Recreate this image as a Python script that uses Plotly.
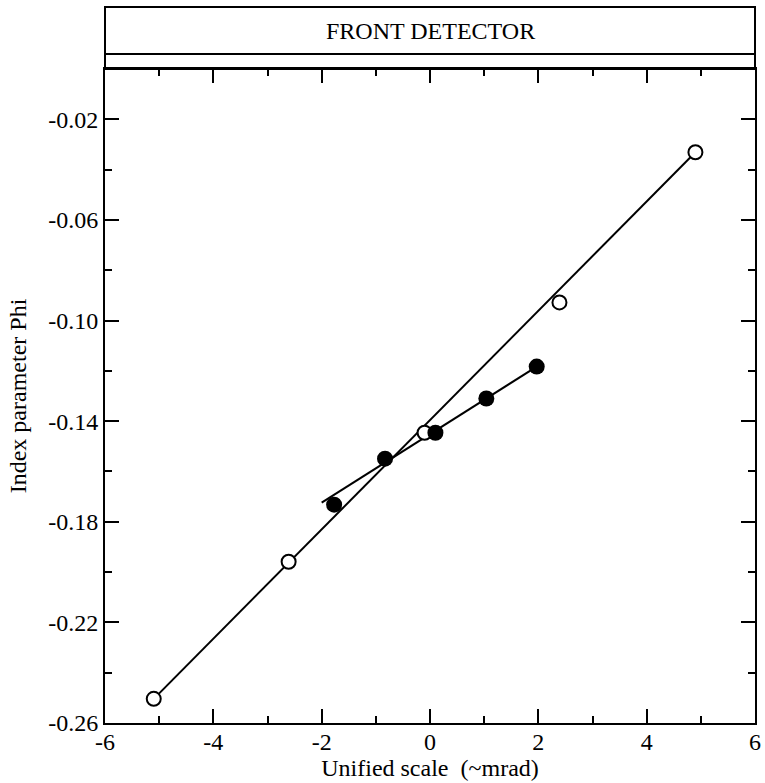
import plotly.graph_objects as go

# Measured points
open_x = [-5.10, -2.61, -0.10, 2.39, 4.90]
open_y = [-0.2504, -0.1959, -0.1446, -0.0928, -0.0331]
filled_x = [-1.77, -0.83, 0.10, 1.04, 1.97]
filled_y = [-0.1732, -0.1549, -0.1446, -0.1310, -0.1183]

# Fitted straight lines (end points)
open_fit_x = [-5.10, 4.90]
open_fit_y = [-0.2504, -0.0331]
filled_fit_x = [-2.00, 1.97]
filled_fit_y = [-0.1724, -0.1183]

x_ticks = [-6, -4, -2, 0, 2, 4, 6]
x_labels = ["-6", "-4", "-2", "0", "2", "4", "6"]
y_ticks = [-0.26, -0.22, -0.18, -0.14, -0.10, -0.06, -0.02]
y_labels = ["-0.26", "-0.22", "-0.18", "-0.14", "-0.10", "-0.06", "-0.02"]

FONT = "Liberation Serif, Times New Roman, serif"

fig = go.Figure()

fig.add_trace(go.Scatter(x=open_fit_x, y=open_fit_y, mode="lines",
                         line=dict(color="black", width=2), hoverinfo="skip"))
fig.add_trace(go.Scatter(x=filled_fit_x, y=filled_fit_y, mode="lines",
                         line=dict(color="black", width=2), hoverinfo="skip"))
fig.add_trace(go.Scatter(x=open_x, y=open_y, mode="markers",
                         marker=dict(symbol="circle", size=14, color="white",
                                     line=dict(color="black", width=2))))
fig.add_trace(go.Scatter(x=filled_x, y=filled_y, mode="markers",
                         marker=dict(symbol="circle", size=16, color="black",
                                     line=dict(color="black", width=0))))

axis_common = dict(
    showline=True, linewidth=2, linecolor="black", mirror="allticks",
    ticks="inside", ticklen=14, tickwidth=2, tickcolor="black",
    showgrid=False, zeroline=False,
    tickfont=dict(family=FONT, size=24, color="black"),
)

fig.update_xaxes(
    range=[-6, 6], tickmode="array", tickvals=x_ticks, ticktext=x_labels,
    minor=dict(dtick=1, tick0=0, ticks="inside", ticklen=7, tickwidth=2,
               tickcolor="black", showgrid=False),
    ticklabelstandoff=-4,
    title=dict(text="Unified scale\u00a0 (~mrad)",
               font=dict(family=FONT, size=24, color="black"), standoff=4),
    **axis_common,
)
fig.update_yaxes(
    range=[-0.26, 0], tickmode="array", tickvals=y_ticks, ticktext=y_labels,
    minor=dict(dtick=0.02, tick0=0, ticks="inside", ticklen=7, tickwidth=2,
               tickcolor="black", showgrid=False),
    title=dict(text="Index parameter Phi",
               font=dict(family=FONT, size=24, color="black"), standoff=15),
    **axis_common,
)

# Header box above the plotting area
H = 723 - 69
def py(pixel_y):
    return (723 - pixel_y) / H

fig.add_shape(type="rect", xref="paper", yref="paper", x0=0, x1=1,
              y0=1, y1=py(7), line=dict(color="black", width=2))
fig.add_shape(type="line", xref="paper", yref="paper", x0=0, x1=1,
              y0=py(54), y1=py(54), line=dict(color="black", width=2))
fig.add_annotation(text="FRONT DETECTOR", xref="paper", yref="paper",
                   x=0.5, y=py(30.5), showarrow=False, xanchor="center",
                   yanchor="middle",
                   font=dict(family=FONT, size=24, color="black"))

fig.update_layout(
    width=765, height=783,
    margin=dict(l=105, r=4, t=69, b=60),
    paper_bgcolor="white", plot_bgcolor="white",
    showlegend=False,
)

fig.write_html("out.html")
